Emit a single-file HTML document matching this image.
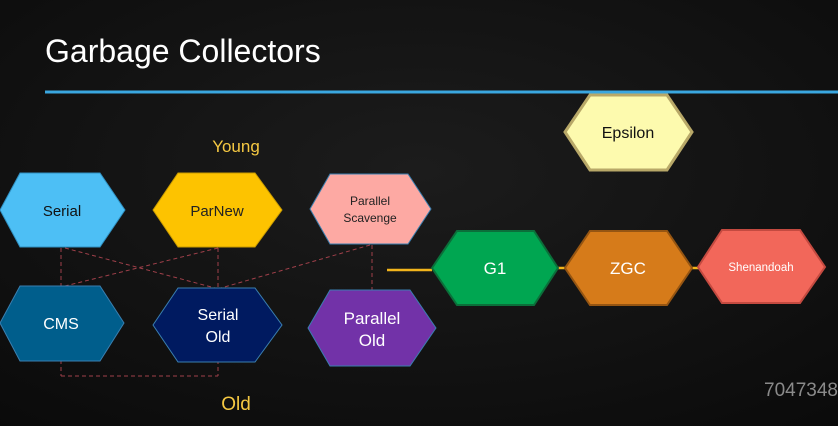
<!DOCTYPE html>
<html><head><meta charset="utf-8"><style>
html,body{margin:0;padding:0;background:#0e0e0e;}
svg{display:block;}
text{font-family:"Liberation Sans",sans-serif;}
</style></head><body>
<svg width="838" height="426" viewBox="0 0 838 426" xmlns="http://www.w3.org/2000/svg">
<defs>
<radialGradient id="bg" cx="0.5" cy="0.4" r="0.8">
<stop offset="0" stop-color="#1c1c1c"/><stop offset="1" stop-color="#0a0a0a"/>
</radialGradient>
</defs>
<rect width="838" height="426" fill="url(#bg)"/>
<text x="45" y="62" font-size="32" fill="#ffffff">Garbage Collectors</text>
<line x1="45" y1="92" x2="838" y2="92" stroke="#3aa7e0" stroke-width="3"/>

<g stroke="#a0404a" stroke-width="1" stroke-dasharray="4,3" fill="none">
<line x1="61" y1="248" x2="61" y2="376"/>
<line x1="61" y1="376" x2="218" y2="376"/>
<line x1="218" y1="248" x2="218" y2="376"/>
<line x1="65" y1="248" x2="215" y2="288"/>
<line x1="218" y1="248" x2="65" y2="286"/>
<line x1="370" y1="245" x2="221" y2="288"/>
<line x1="372" y1="245" x2="372" y2="290"/>
</g>
<g stroke="#f2b51c" stroke-width="2.5">
<line x1="387" y1="270" x2="432" y2="270"/>
<line x1="558" y1="268" x2="565" y2="268"/>
<line x1="692" y1="268" x2="699" y2="268"/>
</g>

<text x="236" y="152" font-size="17" fill="#f5c842" text-anchor="middle">Young</text>
<text x="236" y="410" font-size="19" fill="#f5c842" text-anchor="middle">Old</text>
<text x="838" y="396" font-size="19" fill="#8a8a8a" text-anchor="end">7047348</text>

<g>
<polygon points="0,210 20,173 100,173 125,210 100,247 20,247" fill="#4dbff5" stroke="#2f8fc0"/>
<text x="62" y="216" font-size="15" fill="#111" text-anchor="middle">Serial</text></g>
<g>
<polygon points="153,210 178,173 255,173 282,210 255,247 178,247" fill="#fdc300" stroke="#c89a00"/>
<text x="217" y="216" font-size="15" fill="#222" text-anchor="middle">ParNew</text></g>
<g>
<polygon points="310,209 330,174 408,174 431,209 408,244 330,244" fill="#fda9a3" stroke="#3a7fb0"/>
<text x="370" y="205" font-size="12" fill="#222" text-anchor="middle">Parallel</text>
<text x="370" y="222" font-size="12" fill="#222" text-anchor="middle">Scavenge</text></g>
<g>
<polygon points="0,323 20,286 100,286 124,323 100,361 20,361" fill="#005e8c" stroke="#3a7fb0"/>
<text x="61" y="329" font-size="16" fill="#fff" text-anchor="middle">CMS</text></g>
<g>
<polygon points="153,325 178,288 255,288 282,325 255,362 178,362" fill="#001a60" stroke="#3a7fb0"/>
<text x="218" y="320" font-size="16" fill="#fff" text-anchor="middle">Serial</text>
<text x="218" y="342" font-size="16" fill="#fff" text-anchor="middle">Old</text></g>
<g>
<polygon points="308,328 330,290 410,290 436,328 410,366 330,366" fill="#7232a8" stroke="#3a7fb0"/>
<text x="372" y="324" font-size="17" fill="#fff" text-anchor="middle">Parallel</text>
<text x="372" y="346" font-size="17" fill="#fff" text-anchor="middle">Old</text></g>
<g>
<polygon points="565,132 590,95 667,95 692,132 667,170 590,170" fill="#fdfaae" stroke="#b8a868" stroke-width="3"/>
<text x="628" y="138" font-size="16" fill="#111" text-anchor="middle">Epsilon</text></g>
<g>
<polygon points="432,268 457,231 534,231 558,268 534,305 457,305" fill="#00a651" stroke="#0b6f3a" stroke-width="2"/>
<text x="495" y="274" font-size="17" fill="#fff" text-anchor="middle">G1</text></g>
<g>
<polygon points="565,268 590,231 667,231 692,268 667,305 590,305" fill="#d67b1a" stroke="#955512" stroke-width="2"/>
<text x="628" y="274" font-size="17" fill="#fff" text-anchor="middle">ZGC</text></g>
<g>
<polygon points="698,267 722,230 800,230 825,267 800,303 722,303" fill="#f2675a" stroke="#c44a40" stroke-width="2"/>
<text x="761" y="271" font-size="11.5" fill="#fff" text-anchor="middle">Shenandoah</text></g>
</svg>
</body></html>
